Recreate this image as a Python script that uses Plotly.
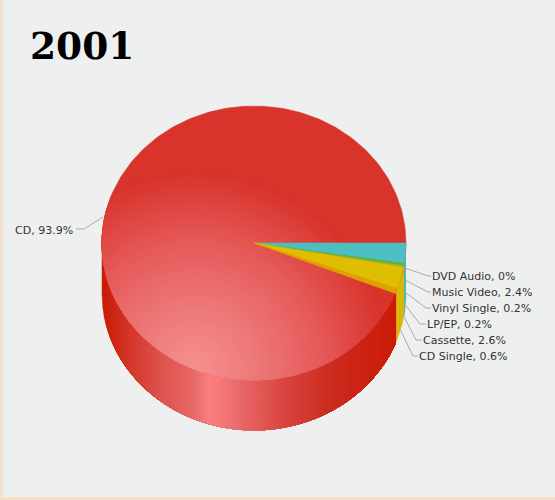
#!/usr/bin/env python3

import numpy as np
import plotly.graph_objects as go

YEAR = "2001"
formats = ["DVD Audio", "Music Video", "Vinyl Single", "LP/EP", "Cassette", "CD Single", "CD"]
shares = [0, 2.4, 0.2, 0.2, 2.6, 0.6, 93.9]

# look of the slices (CD gets gradients instead)
top_colors = ["#4cc0c0", "#4cc0c0", "#4cb84c", "#8db82a", "#dfbd00", "#e0a000", None]
wall_colors = ["#48b8b8", "#48b8b8", "#48b050", "#a0ae20", "#d8b800", "#dd9f00", None]

# pie geometry in pixels
CX, CY = 254, 243
RX, RY = 152, 137
DEPTH = 50

BG = "#eeefef"
EDGE = "#f0e2c8"

top_stops = [(0, "#f79090"), (0.3, "#ee7a7a"), (0.65, "#e55a5a"), (1, "#d8342c")]
GX, GY, GR = 195, 368, 195
wall_stops = [(0, "#c81c04"), (0.1, "#d63a2e"), (0.2, "#dd5550"), (0.3, "#e86a68"),
              (0.35, "#fb8080"), (0.37, "#fa7c7c"), (0.45, "#e86a6a"), (0.6, "#d8453f"),
              (0.75, "#cc2c20"), (0.9, "#cc2010"), (1, "#cc1a00")]

# leader lines: where they leave the pie, bend, and where the text goes
lead_start_y = [268, 280, 292, 302, 313, 327]
lead_start_x = [405, 405, 405, 403, 402, 399]
bend_x = [428, 428, 426, 420, 416, 413]
label_x = [432, 432, 432, 427, 423, 419]
label_y = [276, 292, 308, 324, 340, 356]


def hex_rgb(c):
    return [int(c[i:i + 2], 16) for i in (1, 3, 5)]


def ramp(stops, t):
    pos = [s[0] for s in stops]
    rgb = np.array([hex_rgb(s[1]) for s in stops])
    vals = [np.interp(t, pos, rgb[:, i]) for i in range(3)]
    return "rgb({:.0f},{:.0f},{:.0f})".format(*vals)


def rim(theta, dy=0):
    return CX + RX * np.cos(theta), CY + dy + RY * np.sin(theta)


def poly(fig, x, y, color):
    fig.add_trace(go.Scatter(x=x, y=y, mode="lines", fill="toself", fillcolor=color,
                             line=dict(color=color, width=0.5), hoverinfo="skip", showlegend=False))


def wall(fig, a0, a1, color):
    th = np.linspace(a0, a1, max(int((a1 - a0) * 80), 2))
    x, y = rim(th)
    xb, yb = rim(th[::-1], DEPTH)
    poly(fig, np.r_[x, xb], np.r_[y, yb], color)


def wedge(fig, a0, a1, color):
    th = np.linspace(a0, a1, max(int((a1 - a0) * 80), 2))
    x, y = rim(th)
    poly(fig, np.r_[CX, x, CX], np.r_[CY, y, CY], color)


def disc_patch(r):
    # circle around the highlight, cut off at the pie's rim
    phi = np.linspace(0, 2 * np.pi, 240)
    dx, dy = np.cos(phi), np.sin(phi)
    ox, oy = (GX - CX) / RX, (GY - CY) / RY
    a = (dx / RX) ** 2 + (dy / RY) ** 2
    b = 2 * (ox * dx / RX + oy * dy / RY)
    c = ox ** 2 + oy ** 2 - 1
    s = (-b + np.sqrt(b ** 2 - 4 * a * c)) / (2 * a)
    s = np.minimum(s, r)
    return GX + s * dx, GY + s * dy


fig = go.Figure()

# running angle per slice, clockwise from due east
cum = np.cumsum([0] + shares)
cum = cum / cum[-1] * 2 * np.pi
starts, ends = cum[:-1], cum[1:]

# walls, only the front half shows
for i in range(len(formats) - 1):
    if shares[i] > 0:
        wall(fig, starts[i], ends[i], wall_colors[i])
a_cd = starts[-1]
for t in np.linspace(0, 1, 150)[:-1]:
    # t=0 is the left end of the pie; each strip reaches to the right end so no seams show
    left = np.arccos(2 * t - 1)
    if left > a_cd:
        wall(fig, a_cd, left, ramp(wall_stops, t))

# top of the pie, highlight painted as shrinking discs
t_th = np.linspace(0, 2 * np.pi, 300)
poly(fig, *rim(t_th), top_stops[-1][1])
for t in np.linspace(1, 0.02, 60):
    px, py = disc_patch(GR * t)
    poly(fig, px, py, ramp(top_stops, t))
for i in range(len(formats) - 1):
    if shares[i] > 0:
        wedge(fig, starts[i], ends[i], top_colors[i])

# leader lines and labels
for i, name in enumerate(formats[:-1]):
    fig.add_trace(go.Scatter(x=[lead_start_x[i], bend_x[i], label_x[i] - 1],
                             y=[lead_start_y[i], label_y[i], label_y[i]],
                             mode="lines", line=dict(color="#aaaaaa", width=1),
                             hoverinfo="skip", showlegend=False))
    # annotations carry about 2px of padding
    fig.add_annotation(x=label_x[i] - 2, y=label_y[i], text="{}, {:g}%".format(name, shares[i]),
                       xanchor="left", yanchor="middle", showarrow=False,
                       font=dict(family="DejaVu Sans", size=11, color="#333333"))
fig.add_trace(go.Scatter(x=[103, 84, 76], y=[217, 229, 229], mode="lines",
                         line=dict(color="#aaaaaa", width=1), hoverinfo="skip", showlegend=False))
fig.add_annotation(x=75, y=230, text="{}, {:g}%".format(formats[-1], shares[-1]),
                   xanchor="right", yanchor="middle", showarrow=False,
                   font=dict(family="DejaVu Sans", size=11, color="#333333"))

fig.add_annotation(x=28, y=46, text="<b>{}</b>".format(YEAR), xanchor="left", yanchor="middle",
                   showarrow=False, font=dict(family="DejaVu Serif", size=37.5, color="#000000"))

# tan strip on the left and bottom of the page
fig.add_shape(type="rect", x0=0, x1=3, y0=0, y1=500, fillcolor=EDGE, line_width=0, layer="below")
fig.add_shape(type="rect", x0=0, x1=555, y0=497, y1=500, fillcolor=EDGE, line_width=0, layer="below")

fig.update_xaxes(range=[0, 555], visible=False, fixedrange=True)
fig.update_yaxes(range=[500, 0], visible=False, fixedrange=True)
fig.update_layout(width=555, height=500, margin=dict(l=0, r=0, t=0, b=0),
                  paper_bgcolor=BG, plot_bgcolor=BG, showlegend=False)
fig.write_html("out.html", config=dict(displayModeBar=False),
               post_script="document.body.style.margin='0';document.body.style.overflow='hidden';")
